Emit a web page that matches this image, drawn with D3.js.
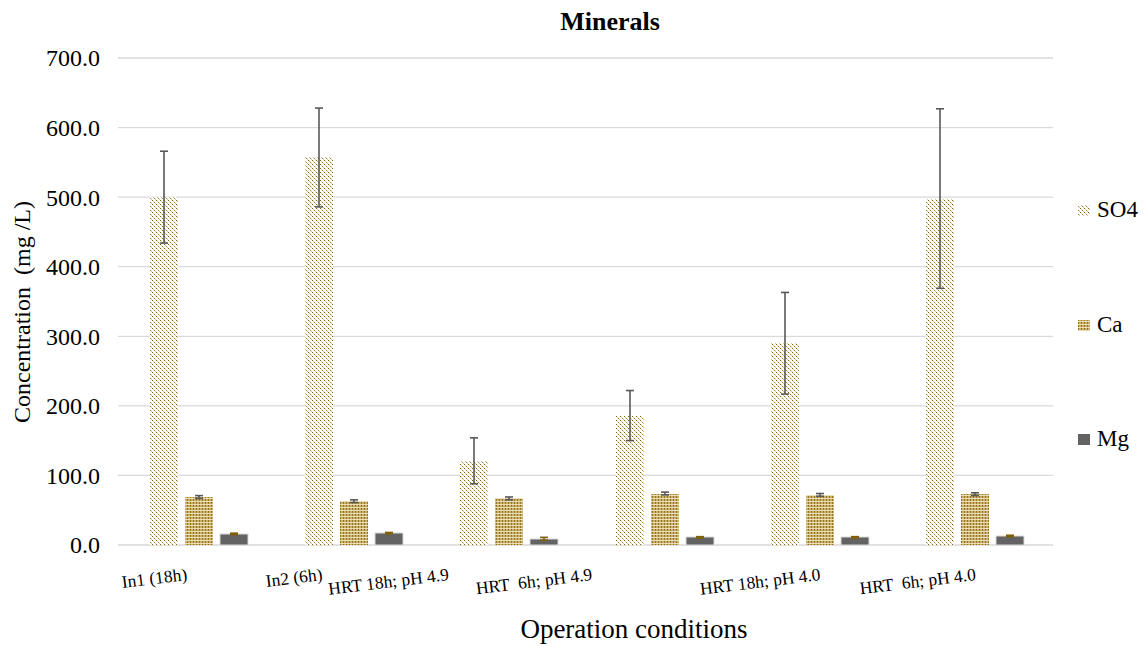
<!DOCTYPE html>
<html>
<head>
<meta charset="utf-8">
<script src="https://cdn.jsdelivr.net/npm/d3@7"></script>
<style>
  body { margin: 0; background: #fff; }
</style>
</head>
<body>
<div id="chart"></div>
<script>
// Data
const categories = ["In1 (18h)", "In2 (6h)", "HRT 18h; pH 4.9", "HRT  6h; pH 4.9", "HRT 18h; pH 4.0", "HRT  6h; pH 4.0"];
const seriesNames = ["SO4", "Ca", "Mg"];
const so4 = [500, 557, 121, 186, 290, 498];
const so4Err = [66, 71, 33, 36, 73, 129];
const ca = [69, 63, 67, 74, 72, 73];
const caErr = [2, 2, 2, 2, 2, 2];
const mg = [16, 17, 9, 11, 11, 13];
const mgErr = [1, 1, 2, 1, 1, 1];
const yTicks = [0, 100, 200, 300, 400, 500, 600, 700];

const width = 1145;
const height = 646;

const svg = d3.select("#chart")
    .append("svg")
    .attr("width", width)
    .attr("height", height)
    .attr("font-family", "'Liberation Serif', 'DejaVu Serif', serif");

// Fill patterns similar to the Excel ones, drawn pixel by pixel
const defs = svg.append("defs");

function pixelPattern(id, size, bg, pixels) {
    const p = defs.append("pattern")
        .attr("id", id)
        .attr("patternUnits", "userSpaceOnUse")
        .attr("width", size).attr("height", size);
    p.append("rect").attr("width", size).attr("height", size).attr("fill", bg)
        .attr("shape-rendering", "crispEdges");
    p.selectAll(".px")
        .data(pixels)
        .enter().append("rect")
        .attr("x", d => d[0]).attr("y", d => d[1])
        .attr("width", 1).attr("height", 1)
        .attr("fill", d => d[2])
        .attr("shape-rendering", "crispEdges");
}

// downward diagonal, dotted dark / light gold
pixelPattern("pat-so4", 4, "#ffffff", [
    [0, 0, "#86650e"], [1, 1, "#d8c796"], [2, 2, "#a4852c"], [3, 3, "#d8c796"],
    [1, 0, "#f4eddc"], [3, 2, "#f4eddc"]
]);

// small grid, tan
pixelPattern("pat-ca", 3, "#c9af6c", [
    [0, 0, "#ebdeb9"], [1, 0, "#ebdeb9"], [2, 0, "#ebdeb9"],
    [1, 1, "#8f6f19"], [1, 2, "#9c7c25"]
]);

const fills = {
    SO4: "url(#pat-so4)",
    Ca: "url(#pat-ca)",
    Mg: "#636363"
};
const errColor = {
    SO4: "#595959",
    Ca: "#595959",
    Mg: "#7f6000"
};

const x0 = d3.scaleBand()
    .domain(categories)
    .range([121, 1053]);

const x1 = d3.scaleBand()
    .domain(seriesNames)
    .range([-52.5, 52.5]);

const barWidth = Math.round(x1.bandwidth() * 0.8);

// Flat table of bars in absolute coordinates (keeps the patterns aligned)
const values = { SO4: so4, Ca: ca, Mg: mg };
const errors = { SO4: so4Err, Ca: caErr, Mg: mgErr };
const bars = [];
categories.forEach((c, i) => {
    seriesNames.forEach(s => {
        const mid = Math.round(x0(c) + x0.bandwidth() / 2) + x1(s) + x1.bandwidth() / 2;
        bars.push({ category: c, series: s, value: values[s][i], err: errors[s][i], mid });
    });
});

const y = d3.scaleLinear()
    .domain([0, 700])
    .range([545, 58]);

// Gridlines
svg.append("g")
    .selectAll("line")
    .data(yTicks)
    .enter().append("line")
    .attr("x1", 118)
    .attr("x2", 1053)
    .attr("y1", d => y(d))
    .attr("y2", d => y(d))
    .attr("stroke", "#d9d9d9")
    .attr("stroke-width", 1.3);

// Y tick labels
svg.append("g")
    .selectAll("text")
    .data(yTicks)
    .enter().append("text")
    .attr("x", 100)
    .attr("y", d => y(d))
    .attr("dy", "0.35em")
    .attr("text-anchor", "end")
    .style("font-size", "24px")
    .text(d => d3.format(".1f")(d));

// Bars
svg.append("g")
    .selectAll("rect")
    .data(bars)
    .enter().append("rect")
    .attr("x", d => Math.round(d.mid - barWidth / 2))
    .attr("y", d => Math.round(y(d.value)))
    .attr("width", barWidth)
    .attr("height", d => Math.round(y(0)) - Math.round(y(d.value)))
    .attr("fill", d => fills[d.series])
    .attr("stroke", d => d.series === "Mg" ? "#d9d9d9" : "none")
    .attr("stroke-width", 1);

// Error bars
const eb = svg.append("g")
    .selectAll("g")
    .data(bars)
    .enter().append("g")
    .attr("stroke", d => errColor[d.series])
    .attr("stroke-width", 1.6);

eb.append("line")
    .attr("x1", d => d.mid)
    .attr("x2", d => d.mid)
    .attr("y1", d => y(d.value + d.err))
    .attr("y2", d => y(d.value - d.err));

eb.selectAll(".cap")
    .data(d => [d.value + d.err, d.value - d.err].map(v => ({ mid: d.mid, v })))
    .enter().append("line")
    .attr("class", "cap")
    .attr("x1", d => d.mid - 4)
    .attr("x2", d => d.mid + 4)
    .attr("y1", d => y(d.v))
    .attr("y2", d => y(d.v));

// X labels (slightly tilted, end-anchored like the original)
const labelShift = [-11, -31, -60, -72, 1, 1];
svg.append("g")
    .selectAll("text")
    .data(categories)
    .enter().append("text")
    .attr("transform", (d, i) => `translate(${x0(d) + x0.bandwidth() / 2 + labelShift[i]},580) rotate(-7)`)
    .attr("text-anchor", "end")
    .style("font-size", "17.5px")
    .style("white-space", "pre")
    .text(d => d);

// Title
svg.append("text")
    .attr("x", 610)
    .attr("y", 30)
    .attr("text-anchor", "middle")
    .style("font-size", "26px")
    .style("font-weight", "bold")
    .text("Minerals");

// Axis titles
svg.append("text")
    .attr("x", 634)
    .attr("y", 638)
    .attr("text-anchor", "middle")
    .style("font-size", "27px")
    .text("Operation conditions");

svg.append("text")
    .attr("transform", "translate(30,312) rotate(-90)")
    .attr("text-anchor", "middle")
    .style("font-size", "24px")
    .style("white-space", "pre")
    .text("Concentration  (mg /L)");

// Legend (absolute coordinates so the pattern lines up too)
const legend = svg.append("g")
    .selectAll("g")
    .data(seriesNames)
    .enter().append("g");

legend.append("rect")
    .attr("x", 1078)
    .attr("y", (d, i) => Math.round(210 + i * 114.5) - 5)
    .attr("width", 12)
    .attr("height", 11)
    .attr("fill", d => fills[d]);

legend.append("text")
    .attr("x", 1097)
    .attr("y", (d, i) => Math.round(210 + i * 114.5) + 7)
    .style("font-size", "23px")
    .text(d => d);
</script>
</body>
</html>
